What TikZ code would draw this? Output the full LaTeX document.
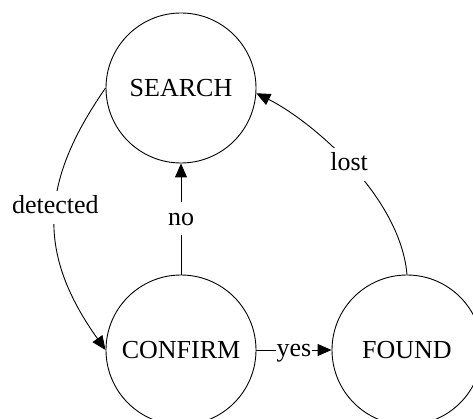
\documentclass[tikz,border=0pt]{standalone}
\usepackage{fontspec}
\setmainfont{Liberation Serif}
\usetikzlibrary{arrows.meta}
\tikzset{
  state/.style={draw=black, line width=0.9pt, circle, minimum size=150pt, inner sep=0pt,
    font=\fontsize{26}{30}\selectfont},
  edge/.style={draw=black, line width=0.9pt, -{Triangle[length=14pt,width=12pt]}},
  elabel/.style={fill=white, inner xsep=1pt, inner ysep=5pt, text height=18pt, text depth=5pt,
    font=\fontsize{26}{30}\selectfont}
}
\begin{document}
\begin{tikzpicture}[x=1pt, y=-1pt]
  \useasboundingbox (0,0) rectangle (473,419);
  \clip (0,0) rectangle (473,419);

  % states
  \node[state] (search)  at (181,88)  {SEARCH};
  \node[state] (confirm) at (181,350) {CONFIRM};
  \node[state] (found)   at (407,350) {FOUND};

  % transitions
  \draw[edge] (search.west) .. controls (38,185) and (38,255) .. (confirm.west)
    node[elabel, pos=0.45] {detected};
  \draw[edge] (confirm.north) -- (search.south)
    node[elabel, midway] {no};
  \draw[edge] (confirm.east) -- (found.west)
    node[elabel, midway, inner ysep=0pt] {yes};
  \draw[edge] (found.north) .. controls (400,195) and (310,120) .. (search.-4)
    node[elabel, pos=0.5] {lost};
\end{tikzpicture}
\end{document}
